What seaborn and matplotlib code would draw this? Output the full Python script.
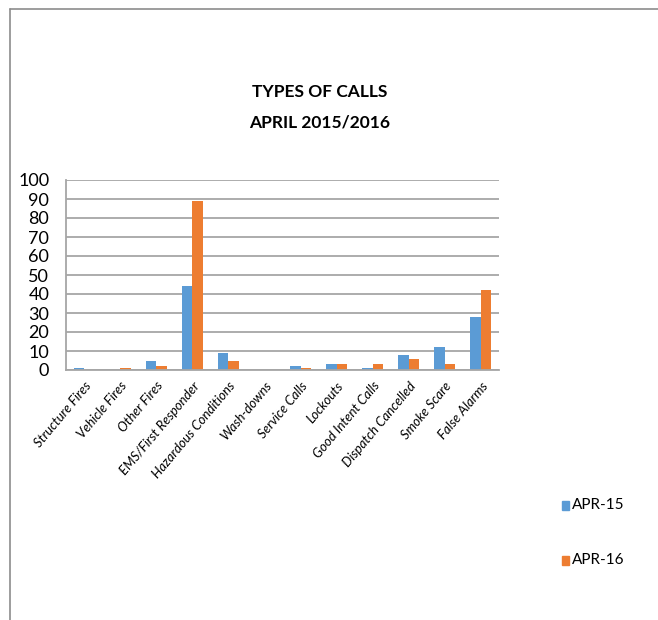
import pandas as pd
import numpy as np
import seaborn as sns
import matplotlib
matplotlib.use('Agg')
import matplotlib.pyplot as plt
from matplotlib.lines import Line2D

categories = ['Structure Fires', 'Vehicle Fires', 'Other Fires', 'EMS/First Responder',
              'Hazardous Conditions', 'Wash-downs', 'Service Calls', 'Lockouts',
              'Good Intent Calls', 'Dispatch Cancelled', 'Smoke Scare', 'False Alarms']
apr15 = [1, 0, 5, 44, 9, 0, 2, 3, 1, 8, 12, 28]
apr16 = [0, 1, 2, 89, 5, 0, 1, 3, 3, 6, 3, 42]
series = ['APR-15', 'APR-16']
colors = ['#5B9BD5', '#ED7D31']
yticks = list(range(0, 101, 10))

sns.set_style('white')
plt.rcParams['font.family'] = ['Lato', 'DejaVu Sans']
plt.rcParams['text.color'] = 'black'

df = pd.DataFrame({'category': categories * 2,
                   'calls': apr15 + apr16,
                   'year': [series[0]] * len(categories) + [series[1]] * len(categories)})

fig = plt.figure(figsize=(6.58, 6.2), dpi=100)
ax = fig.add_axes([66 / 658, 1 - 370 / 620, (499 - 66) / 658, 190 / 620])

sns.barplot(data=df, x='category', y='calls', hue='year', palette=colors,
            saturation=1, width=0.58, linewidth=0, ax=ax, legend=False)

ax.set_ylim(0, 100)
ax.set_xlim(-0.5, len(categories) - 0.5)
ax.set_yticks(yticks)
ax.set_yticklabels([str(v) for v in yticks], fontsize=13, color='black')
ax.yaxis.grid(True, color='#a6a6a6', linewidth=1.3)
ax.set_axisbelow(True)
ax.set_xlabel('')
ax.set_ylabel('')
ax.tick_params(axis='y', length=0, pad=12)
ax.tick_params(axis='x', length=0, pad=7)
for lbl in ax.get_xticklabels():
    lbl.set_rotation(50)
    lbl.set_ha('right')
    lbl.set_rotation_mode('anchor')
    lbl.set_fontstyle('italic')
    lbl.set_fontsize(9.5)
    lbl.set_color('black')
for s in ['top', 'right']:
    ax.spines[s].set_visible(False)
for s in ['left', 'bottom']:
    ax.spines[s].set_color('#a6a6a6')
    ax.spines[s].set_linewidth(1.3)

fig.text(320 / 658, 1 - 92 / 620, 'TYPES OF CALLS', ha='center', va='center',
         fontsize=12.5, fontweight='bold')
fig.text(320 / 658, 1 - 122 / 620, 'APRIL 2015/2016', ha='center', va='center',
         fontsize=12.5, fontweight='bold')

# legend on the right, spaced out like the original
for yy, lab, col in [(505, series[0], colors[0]), (560, series[1], colors[1])]:
    fig.patches.append(plt.Rectangle((562 / 658, 1 - (yy + 4.5) / 620), 7 / 658, 9 / 620,
                                     transform=fig.transFigure, color=col))
    fig.text(572 / 658, 1 - yy / 620, lab, ha='left', va='center', fontsize=11)

# outer frame lines
fig.add_artist(Line2D([10 / 658, 10 / 658], [0, 1 - 9 / 620], transform=fig.transFigure,
                      color='#8c8c8c', linewidth=1.2))
fig.add_artist(Line2D([10 / 658, 1], [1 - 9 / 620, 1 - 9 / 620], transform=fig.transFigure,
                      color='#8c8c8c', linewidth=1.2))

fig.savefig('out.png', dpi=100)
